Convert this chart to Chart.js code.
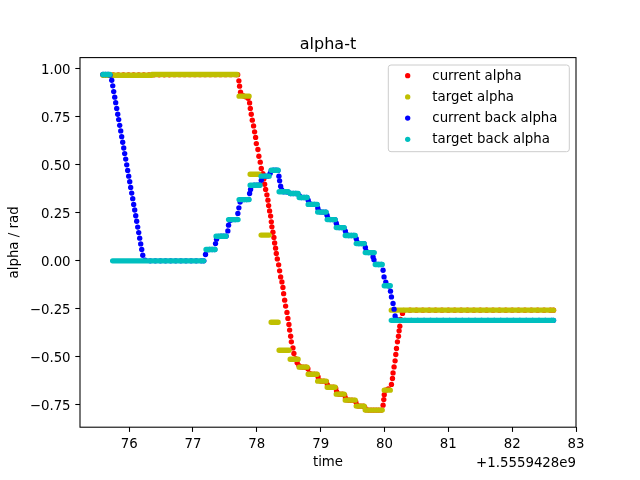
<!DOCTYPE html>
<html>
<head>
<meta charset="utf-8">
<script src="https://cdn.jsdelivr.net/npm/chart.js@4"></script>
<style>
  html, body { margin: 0; padding: 0; background: #fff; }
</style>
</head>
<body>
<canvas id="chart" width="640" height="480"></canvas>
<script>
// time values are offsets from 1.5559428e9 s, alpha in rad

// current alpha (red dots)
const redT = [75.59, 75.67, 75.75, 75.83, 75.91, 75.99, 76.07, 76.15, 76.23, 76.31, 76.39, 76.47, 76.55, 76.63,
  76.71, 76.79, 76.87, 76.95, 77.03, 77.11, 77.19, 77.27, 77.35, 77.43, 77.51, 77.59, 77.67, 77.70,
  77.719, 77.730, 77.745, 77.785, 77.824, 77.863, 77.887, 77.898, 77.913, 77.929, 77.949, 77.965, 77.981, 77.992,
  78.017, 78.032, 78.054, 78.070, 78.095, 78.111, 78.122, 78.138, 78.158, 78.174, 78.185, 78.200, 78.216, 78.227,
  78.236, 78.252, 78.268, 78.279, 78.294, 78.305, 78.321, 78.342, 78.357, 78.373, 78.393, 78.409, 78.420, 78.436,
  78.451, 78.472, 78.487, 78.503, 78.514, 78.530, 78.541, 78.566, 78.581, 78.608, 78.632, 78.660,
  78.69, 78.73, 78.77, 78.80, 78.82, 78.86, 78.90, 78.94, 78.96, 78.975, 79.01, 79.05, 79.09, 79.105, 79.12,
  79.16, 79.20, 79.235, 79.25, 79.265, 79.30, 79.34, 79.375, 79.39, 79.41, 79.45, 79.49, 79.53, 79.55, 79.565,
  79.59, 79.63, 79.67, 79.69, 79.71, 79.75, 79.79, 79.83, 79.87, 79.91, 79.95,
  79.978, 79.989, 79.996, 80.020, 80.059, 80.109, 80.125, 80.134, 80.150, 80.166, 80.177, 80.188, 80.203, 80.219,
  80.229, 80.240, 80.251, 80.282, 80.30,
  80.40, 80.50, 80.60, 80.70, 80.80, 80.90, 81.00, 81.10, 81.20, 81.30, 81.40, 81.50, 81.60, 81.70, 81.80, 81.90,
  82.00, 82.10, 82.20, 82.30, 82.40, 82.50, 82.60, 82.648];
const redA = [0.969, 0.969, 0.969, 0.969, 0.969, 0.969, 0.969, 0.969, 0.969, 0.969, 0.969, 0.969, 0.969, 0.969,
  0.970, 0.970, 0.970, 0.970, 0.970, 0.970, 0.970, 0.970, 0.970, 0.970, 0.970, 0.970, 0.970, 0.970,
  0.938, 0.910, 0.879, 0.860, 0.855, 0.847, 0.823, 0.794, 0.764, 0.733, 0.703, 0.672, 0.643, 0.611,
  0.580, 0.545, 0.514, 0.481, 0.454, 0.428, 0.399, 0.372, 0.344, 0.316, 0.288, 0.260, 0.233, 0.203,
  0.177, 0.149, 0.122, 0.093, 0.066, 0.038, 0.010, -0.021, -0.052, -0.084, -0.110, -0.139, -0.171, -0.205,
  -0.236, -0.269, -0.300, -0.332, -0.361, -0.393, -0.422, -0.454, -0.483, -0.510, -0.531, -0.546,
  -0.553, -0.554, -0.554, -0.562, -0.585, -0.591, -0.591, -0.592, -0.605, -0.624, -0.627, -0.627, -0.630, -0.645, -0.657,
  -0.659, -0.659, -0.664, -0.682, -0.693, -0.695, -0.695, -0.700, -0.716, -0.725, -0.726, -0.726, -0.727, -0.735, -0.750,
  -0.757, -0.757, -0.757, -0.763, -0.776, -0.778, -0.778, -0.778, -0.778, -0.778, -0.778,
  -0.752, -0.723, -0.698, -0.674, -0.668, -0.644, -0.613, -0.584, -0.553, -0.521, -0.488, -0.457, -0.422, -0.393,
  -0.365, -0.341, -0.306, -0.274, -0.259,
  -0.257, -0.257, -0.257, -0.257, -0.257, -0.257, -0.257, -0.257, -0.257, -0.257, -0.257, -0.257, -0.257, -0.257, -0.257, -0.257,
  -0.257, -0.257, -0.257, -0.257, -0.257, -0.257, -0.257, -0.257];

// target alpha (olive), held values: start, end, value
const yellowStart = [75.589, 76.357, 77.722, 77.895, 78.067, 78.224, 78.349, 78.522, 78.663, 78.804, 78.953, 79.102,
  79.244, 79.385, 79.557, 79.698, 79.996, 80.106];
const yellowEnd = [76.357, 77.691, 77.879, 78.036, 78.193, 78.334, 78.506, 78.647, 78.789, 78.946, 79.087, 79.228,
  79.369, 79.542, 79.683, 79.965, 80.091, 82.648];
const yellowVal = [0.967, 0.971, 0.858, 0.451, 0.134, -0.320, -0.466, -0.513, -0.554, -0.591, -0.627, -0.659,
  -0.695, -0.726, -0.757, -0.778, -0.674, -0.257];

// current back alpha (blue dots)
const blueT = [75.59, 75.63, 75.67, 75.70,
  75.727, 75.743, 75.758, 75.774, 75.789, 75.805, 75.821, 75.836, 75.852, 75.868, 75.883, 75.899, 75.915, 75.930,
  75.946, 75.962, 75.977, 75.993, 76.009, 76.024, 76.040, 76.056, 76.071, 76.087, 76.103, 76.118, 76.134, 76.150,
  76.165, 76.181, 76.197, 76.213,
  76.25, 76.33, 76.41, 76.49, 76.57, 76.65, 76.73, 76.81, 76.89, 76.97, 77.05, 77.13, 77.17,
  77.196, 77.22, 77.26, 77.30, 77.34, 77.353, 77.369, 77.40, 77.44, 77.48, 77.52, 77.546, 77.557, 77.58, 77.62,
  77.66, 77.69, 77.703, 77.719, 77.738, 77.76, 77.80, 77.84, 77.87, 77.887, 77.902, 77.92, 77.96, 78.00, 78.04,
  78.070, 78.09, 78.13, 78.17, 78.208, 78.225, 78.26, 78.30, 78.33, 78.346, 78.357, 78.373, 78.389, 78.42, 78.46,
  78.49, 78.53, 78.57, 78.61, 78.64, 78.665, 78.70, 78.74, 78.78, 78.805, 78.82, 78.86, 78.90, 78.94, 78.955,
  78.965, 79.00, 79.04, 79.08, 79.10, 79.113, 79.15, 79.19, 79.225, 79.245, 79.258, 79.29, 79.33, 79.365, 79.387,
  79.40, 79.44, 79.48, 79.52, 79.558, 79.572, 79.60, 79.64, 79.68, 79.70, 79.713, 79.75, 79.79, 79.821, 79.835,
  79.87, 79.91, 79.95, 79.978, 79.993, 80.020, 80.045, 80.07, 80.094, 80.109, 80.134, 80.150, 80.166, 80.185,
  80.22, 80.32, 80.42, 80.52, 80.62, 80.72, 80.82, 80.92, 81.02, 81.12, 81.22, 81.32, 81.42, 81.52, 81.62, 81.72,
  81.82, 81.92, 82.02, 82.12, 82.22, 82.32, 82.42, 82.52, 82.62, 82.648];
const blueA = [0.971, 0.971, 0.971, 0.968,
  0.941, 0.912, 0.882, 0.853, 0.824, 0.794, 0.764, 0.736, 0.706, 0.677, 0.647, 0.618, 0.588, 0.559,
  0.530, 0.500, 0.471, 0.441, 0.412, 0.382, 0.353, 0.324, 0.294, 0.265, 0.235, 0.206, 0.176, 0.147,
  0.118, 0.088, 0.059, 0.029,
  0.003, 0.0, 0.0, 0.0, 0.0, 0.0, 0.0, 0.0, 0.0, 0.0, 0.0, 0.0, 0.0,
  0.033, 0.057, 0.059, 0.059, 0.059, 0.090, 0.113, 0.127, 0.128, 0.128, 0.129, 0.156, 0.186, 0.210, 0.215,
  0.215, 0.216, 0.247, 0.276, 0.306, 0.318, 0.319, 0.319, 0.320, 0.351, 0.372, 0.390, 0.394, 0.394, 0.395,
  0.420, 0.438, 0.441, 0.441, 0.455, 0.468, 0.472, 0.472, 0.471, 0.441, 0.417, 0.389, 0.371, 0.360, 0.360,
  0.358, 0.351, 0.351, 0.351, 0.350, 0.340, 0.330, 0.330, 0.330, 0.316, 0.300, 0.294, 0.294, 0.293, 0.275,
  0.262, 0.255, 0.254, 0.254, 0.238, 0.222, 0.215, 0.215, 0.214, 0.196, 0.180, 0.173, 0.173, 0.172, 0.155,
  0.139, 0.132, 0.132, 0.132, 0.115, 0.097, 0.090, 0.090, 0.089, 0.070, 0.050, 0.043, 0.043, 0.020, 0.005,
  -0.017, -0.019, -0.019, -0.049, -0.084, -0.111, -0.127, -0.131, -0.158, -0.188, -0.222, -0.252, -0.287, -0.304,
  -0.310, -0.310, -0.310, -0.310, -0.310, -0.310, -0.310, -0.310, -0.310, -0.310, -0.310, -0.310, -0.310, -0.310, -0.310, -0.310,
  -0.310, -0.310, -0.310, -0.310, -0.310, -0.310, -0.310, -0.310, -0.310, -0.310];

// target back alpha (cyan), held values: start, end, value
const cyanStart = [75.589, 75.741, 77.204, 77.361, 77.557, 77.722, 77.895, 78.067, 78.224, 78.349, 78.522, 78.663,
  78.804, 78.953, 79.102, 79.244, 79.385, 79.557, 79.698, 79.855, 79.996, 80.106];
const cyanEnd = [75.698, 77.168, 77.346, 77.518, 77.706, 77.879, 78.051, 78.193, 78.334, 78.491, 78.647, 78.789,
  78.946, 79.087, 79.228, 79.369, 79.542, 79.683, 79.840, 79.965, 80.091, 82.648];
const cyanVal = [0.971, 0.0, 0.059, 0.128, 0.215, 0.319, 0.394, 0.441, 0.472, 0.360, 0.351, 0.330,
  0.294, 0.254, 0.215, 0.173, 0.132, 0.090, 0.043, -0.019, -0.130, -0.310];

const xTickValues = [76, 77, 78, 79, 80, 81, 82, 83];
const yTickValues = [-0.75, -0.5, -0.25, 0, 0.25, 0.5, 0.75, 1.0];

const red = '#ff0000';
const olive = '#bfbf00';
const blue = '#0000ff';
const cyan = '#00bfbf';
const font = { family: 'DejaVu Sans', size: 13.33 };

function dots(t, a) {
  return t.map(function(x, i) { return { x: x, y: a[i] }; });
}

// a held value is drawn as a thick round-capped stroke, like a run of overlapping dots
function steps(t0, t1, v) {
  const pts = [];
  v.forEach(function(y, i) {
    pts.push({ x: t0[i], y: y }, { x: t1[i], y: y }, { x: t1[i], y: null });
  });
  return pts;
}

// axes frame, title, offset text and legend box in matplotlib style
const framePlugin = {
  id: 'frame',
  afterDraw: function(chart) {
    const ctx = chart.ctx;
    const a = chart.chartArea;
    ctx.save();
    ctx.strokeStyle = '#000';
    ctx.lineWidth = 1.07;
    ctx.strokeRect(a.left, a.top, a.right - a.left, a.bottom - a.top);

    ctx.fillStyle = '#000';
    ctx.font = '16px "DejaVu Sans"';
    ctx.textAlign = 'center';
    ctx.textBaseline = 'alphabetic';
    ctx.fillText('alpha-t', (a.left + a.right) / 2, a.top - 8.5);

    ctx.font = '13.33px "DejaVu Sans"';
    ctx.textAlign = 'right';
    ctx.fillText('+1.5559428e9', a.right, a.bottom + 39.3);

    // legend
    const w = 181, h = 86.7;
    const lx = a.right - 6.7 - w, ly = a.top + 7.4;
    ctx.beginPath();
    ctx.roundRect(lx, ly, w, h, 2.7);
    ctx.fillStyle = 'rgba(255,255,255,0.8)';
    ctx.fill();
    ctx.strokeStyle = '#cccccc';
    ctx.lineWidth = 1;
    ctx.stroke();
    ctx.textAlign = 'left';
    ctx.textBaseline = 'middle';
    chart.data.datasets.forEach(function(ds, i) {
      const y = ly + 10.7 + i * 21.2;
      ctx.beginPath();
      ctx.arc(lx + 19.4, y, 2.67, 0, Math.PI * 2);
      ctx.fillStyle = ds.backgroundColor;
      ctx.fill();
      ctx.fillStyle = '#000';
      ctx.fillText(ds.label, lx + 44, y + 0.5);
    });
    ctx.restore();
  }
};

new Chart(document.getElementById('chart'), {
  type: 'scatter',
  data: {
    datasets: [
      { label: 'current alpha', data: dots(redT, redA), backgroundColor: red, borderColor: red,
        pointRadius: 2.67, pointBorderWidth: 0, order: 3 },
      { label: 'target alpha', data: steps(yellowStart, yellowEnd, yellowVal), showLine: true,
        backgroundColor: olive, borderColor: olive, borderWidth: 5.33, borderCapStyle: 'round',
        pointRadius: 0, order: 2 },
      { label: 'current back alpha', data: dots(blueT, blueA), backgroundColor: blue, borderColor: blue,
        pointRadius: 2.67, pointBorderWidth: 0, order: 1 },
      { label: 'target back alpha', data: steps(cyanStart, cyanEnd, cyanVal), showLine: true,
        backgroundColor: cyan, borderColor: cyan, borderWidth: 5.33, borderCapStyle: 'round',
        pointRadius: 0, order: 0 }
    ]
  },
  options: {
    responsive: false,
    animation: false,
    devicePixelRatio: 1,
    events: [],
    layout: { padding: { top: 57.6, right: 64, bottom: 0, left: 0 } },
    plugins: {
      legend: { display: false },
      title: { display: false },
      tooltip: { enabled: false }
    },
    scales: {
      x: {
        type: 'linear',
        min: 75.23,
        max: 83.0,
        afterBuildTicks: function(scale) {
          scale.ticks = xTickValues.map(function(v) { return { value: v }; });
        },
        afterFit: function(scale) { scale.height = 52.8; },
        border: { display: false },
        grid: { drawOnChartArea: false, drawTicks: true, tickLength: 4.7, tickColor: '#000', tickWidth: 1.07 },
        ticks: {
          color: '#000', font: font, padding: 4.7, maxRotation: 0, autoSkip: false,
          callback: function(value) { return String(value); }
        },
        title: { display: true, text: 'time', color: '#000', font: font, padding: { top: 0, bottom: 9.4 } }
      },
      y: {
        type: 'linear',
        min: -0.867,
        max: 1.059,
        afterBuildTicks: function(scale) {
          scale.ticks = yTickValues.map(function(v) { return { value: v }; });
        },
        afterFit: function(scale) { scale.width = 80; },
        border: { display: false },
        grid: { drawOnChartArea: false, drawTicks: true, tickLength: 4.7, tickColor: '#000', tickWidth: 1.07 },
        ticks: {
          color: '#000', font: font, padding: 4.7, autoSkip: false, labelOffset: 1.5,
          callback: function(value) { return value.toFixed(2).replace('-', '\u2212'); }
        },
        title: { display: true, text: 'alpha / rad', color: '#000', font: font, padding: { top: 7, bottom: 0 } }
      }
    }
  },
  plugins: [framePlugin]
});
</script>
</body>
</html>
